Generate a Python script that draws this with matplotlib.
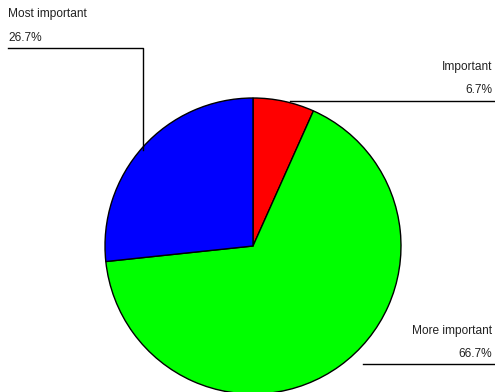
import matplotlib
matplotlib.use("Agg")
import matplotlib.pyplot as plt

categories = ["Important", "More important", "Most important"]
percentages = [6.7, 66.7, 26.7]
colors = ["#ff0000", "#00ff00", "#0000ff"]

W, H = 495, 392
fig = plt.figure(figsize=(W / 100, H / 100), dpi=100)
ax = fig.add_axes([0, 0, 1, 1])

def py(y):
    return H - y

cx, cy, r = 253, 246, 148
ax.pie(percentages, colors=colors, startangle=90, counterclock=False,
       center=(cx, py(cy)), radius=r,
       wedgeprops=dict(edgecolor="black", linewidth=1.0))
ax.set_xlim(0, W)
ax.set_ylim(0, H)
ax.set_aspect("equal")
ax.axis("off")

font = dict(family=["Liberation Sans", "DejaVu Sans"], fontsize=8.6, color="#222222")
lc = dict(color="black", linewidth=1.0)

# Most important (left)
ax.text(8, py(14), categories[2], ha="left", va="center", **font)
ax.text(8, py(38), f"{percentages[2]}%", ha="left", va="center", **font)
ax.plot([8, 143, 143], [py(48), py(48), py(150)], **lc)

# Important (right top)
ax.text(492, py(67), categories[0], ha="right", va="center", **font)
ax.text(492, py(90), f"{percentages[0]}%", ha="right", va="center", **font)
ax.plot([290, 495], [py(101), py(101)], **lc)

# More important (right bottom)
ax.text(492, py(331), categories[1], ha="right", va="center", **font)
ax.text(492, py(354), f"{percentages[1]}%", ha="right", va="center", **font)
ax.plot([363, 495], [py(364), py(364)], **lc)

fig.savefig("out.png", dpi=100)
